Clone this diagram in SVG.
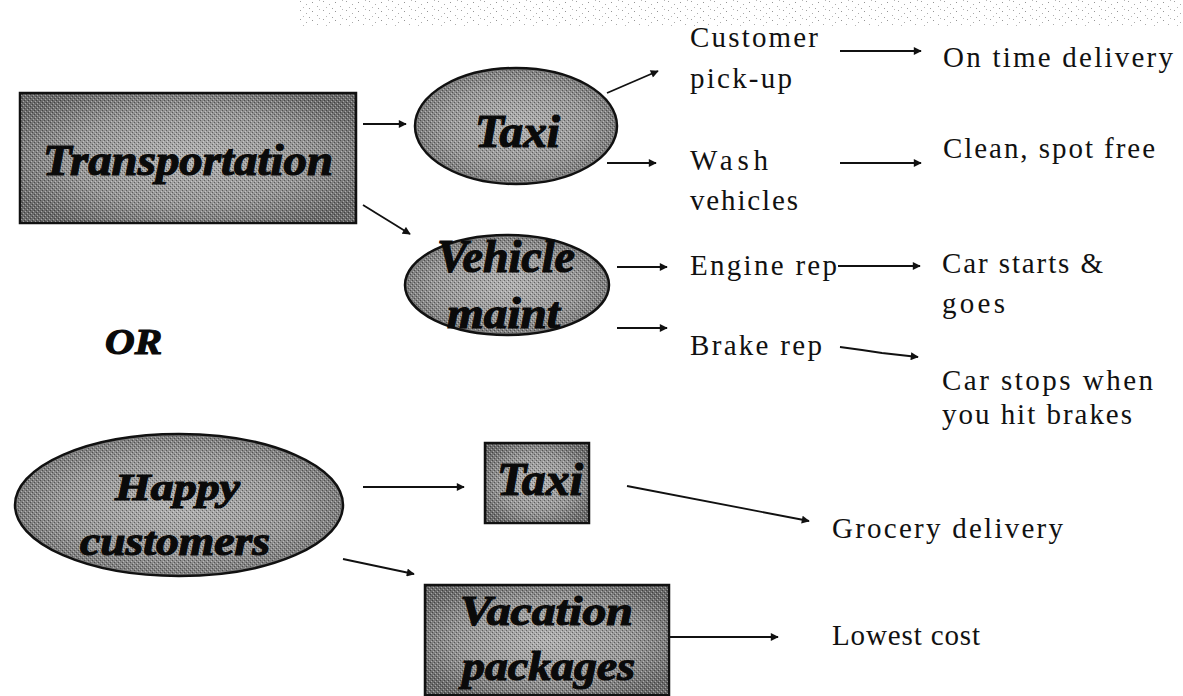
<svg xmlns="http://www.w3.org/2000/svg" width="1183" height="696" viewBox="0 0 1183 696">
<style>
.lbl{font-family:"Liberation Serif","Times New Roman",serif;font-size:29px;fill:#111;}
.nd{font-family:"Liberation Serif","Times New Roman",serif;font-weight:bold;font-style:italic;fill:#0a0a0a;stroke:#0a0a0a;stroke-width:1.2;}
.shape{stroke:#111;stroke-width:2.5;}
.conn{stroke:#111;stroke-width:1.8;fill:none;marker-end:url(#ah);}
</style>
<defs>
<marker id="ah" viewBox="0 0 10 10" refX="9" refY="5" markerWidth="9" markerHeight="8" markerUnits="userSpaceOnUse" orient="auto">
<path d="M0,0 L10,5 L0,10 z" fill="#111"/>
</marker>
<radialGradient id="g" cx="0.5" cy="0.5" r="0.6">
<stop offset="0" stop-color="#b0b0b0"/>
<stop offset="0.6" stop-color="#959595"/>
<stop offset="1" stop-color="#6a6a6a"/>
</radialGradient>
<pattern id="dith" width="4" height="4" patternUnits="userSpaceOnUse">
<rect x="0" y="0" width="1" height="1" fill="#000"/>
<rect x="2" y="2" width="1" height="1" fill="#000"/>
<rect x="1" y="3" width="1" height="1" fill="#fff"/>
<rect x="3" y="1" width="1" height="1" fill="#fff"/>
</pattern>
<pattern id="noise" width="23" height="9" patternUnits="userSpaceOnUse">
<rect x="1" y="1" width="1" height="1" fill="#777"/>
<rect x="7" y="4" width="1" height="1" fill="#888"/>
<rect x="13" y="2" width="1" height="1" fill="#666"/>
<rect x="18" y="6" width="1" height="1" fill="#888"/>
<rect x="4" y="7" width="1" height="1" fill="#999"/>
<rect x="10" y="8" width="1" height="1" fill="#777"/>
<rect x="20" y="0" width="1" height="1" fill="#999"/>
</pattern>
</defs>
<rect width="1183" height="696" fill="#fff"/>
<rect id="scan-noise" x="300" y="0" width="883" height="26" fill="url(#noise)" opacity="0.7"/>

<g id="transportation">
<rect class="shape" x="20" y="93" width="336" height="130" fill="url(#g)"/>
<rect x="21" y="94" width="334" height="128" fill="url(#dith)" opacity="0.4"/>
<text class="nd" x="43" y="175" font-size="45" textLength="290" lengthAdjust="spacingAndGlyphs">Transportation</text>
</g>

<g id="taxi-ellipse">
<ellipse class="shape" cx="516" cy="126" rx="101" ry="58" fill="url(#g)"/>
<ellipse cx="516" cy="126" rx="99" ry="56" fill="url(#dith)" opacity="0.4"/>
<text class="nd" x="475" y="147" font-size="46" textLength="85" lengthAdjust="spacingAndGlyphs">Taxi</text>
</g>

<g id="vehicle-maint">
<ellipse class="shape" cx="507" cy="285" rx="102" ry="50" fill="url(#g)"/>
<ellipse cx="507" cy="285" rx="100" ry="48" fill="url(#dith)" opacity="0.4"/>
<text class="nd" x="437" y="272" font-size="46" textLength="138" lengthAdjust="spacingAndGlyphs">Vehicle</text>
<text class="nd" x="447" y="328" font-size="44" textLength="113" lengthAdjust="spacingAndGlyphs">maint</text>
</g>

<g id="or-label">
<text class="nd" x="105" y="354" font-size="36" stroke-width="0.5" textLength="57" lengthAdjust="spacingAndGlyphs">OR</text>
</g>

<g id="happy-customers">
<ellipse class="shape" cx="179" cy="505" rx="164" ry="71" fill="url(#g)"/>
<ellipse cx="179" cy="505" rx="162" ry="69" fill="url(#dith)" opacity="0.4"/>
<text class="nd" x="115" y="500" font-size="38" textLength="125" lengthAdjust="spacingAndGlyphs">Happy</text>
<text class="nd" x="80" y="555" font-size="40" textLength="190" lengthAdjust="spacingAndGlyphs">customers</text>
</g>

<g id="taxi-box">
<rect class="shape" x="485" y="443" width="104" height="80" fill="url(#g)"/>
<rect x="486" y="444" width="102" height="78" fill="url(#dith)" opacity="0.4"/>
<text class="nd" x="497" y="495" font-size="46" textLength="86" lengthAdjust="spacingAndGlyphs">Taxi</text>
</g>

<g id="vacation-packages">
<rect class="shape" x="425" y="585" width="244" height="110" fill="url(#g)"/>
<rect x="426" y="586" width="242" height="108" fill="url(#dith)" opacity="0.4"/>
<text class="nd" x="460" y="625" font-size="42" textLength="173" lengthAdjust="spacingAndGlyphs">Vacation</text>
<text class="nd" x="462" y="680" font-size="42" textLength="173" lengthAdjust="spacingAndGlyphs">packages</text>
</g>

<g id="customer-pickup"><text class="lbl" x="690" y="47" textLength="128">Customer</text><text class="lbl" x="690" y="88" textLength="102">pick-up</text></g>
<g id="wash-vehicles"><text class="lbl" x="690" y="170" textLength="78">Wash</text><text class="lbl" x="690" y="210" textLength="108">vehicles</text></g>
<g id="on-time"><text class="lbl" x="943" y="67" textLength="230">On time delivery</text></g>
<g id="clean"><text class="lbl" x="943" y="158" textLength="212">Clean, spot free</text></g>
<g id="engine-rep"><text class="lbl" x="690" y="275" textLength="147">Engine rep</text></g>
<g id="brake-rep"><text class="lbl" x="690" y="355" textLength="132">Brake rep</text></g>
<g id="car-starts"><text class="lbl" x="942" y="273" textLength="161">Car starts &amp;</text><text class="lbl" x="942" y="313" textLength="63">goes</text></g>
<g id="car-stops"><text class="lbl" x="942" y="390" textLength="211">Car stops when</text><text class="lbl" x="942" y="424" textLength="190">you hit brakes</text></g>
<g id="grocery"><text class="lbl" x="832" y="538" textLength="231">Grocery delivery</text></g>
<g id="lowest-cost"><text class="lbl" x="832" y="645" textLength="148">Lowest cost</text></g>

<g id="connectors">
<line class="conn" x1="363" y1="124" x2="406" y2="124"/>
<line class="conn" x1="363" y1="205" x2="410" y2="234"/>
<line class="conn" x1="607" y1="93" x2="658" y2="71"/>
<line class="conn" x1="607" y1="163" x2="656" y2="163"/>
<line class="conn" x1="840" y1="51" x2="921" y2="51"/>
<line class="conn" x1="840" y1="163" x2="921" y2="163"/>
<line class="conn" x1="617" y1="267" x2="667" y2="267"/>
<line class="conn" x1="617" y1="328" x2="667" y2="328"/>
<line class="conn" x1="838" y1="266" x2="920" y2="266"/>
<polyline class="conn" points="840,347 862,350 882,353 918,357"/>
<line class="conn" x1="363" y1="487" x2="464" y2="487"/>
<line class="conn" x1="343" y1="559" x2="414" y2="574"/>
<line class="conn" x1="627" y1="486" x2="809" y2="521"/>
<line class="conn" x1="669" y1="637" x2="778" y2="637"/>
</g>
</svg>
